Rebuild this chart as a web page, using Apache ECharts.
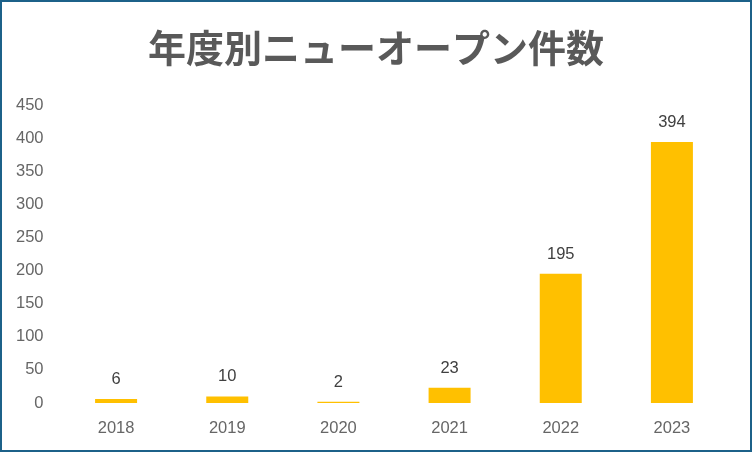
<!DOCTYPE html>
<html><head><meta charset="utf-8">
<script src="https://cdn.jsdelivr.net/npm/echarts@6/dist/echarts.min.js"></script>
<style>html,body{margin:0;padding:0;background:#fff}#c{width:752px;height:452px;box-sizing:border-box;border:2px solid #1C6189}</style>
</head><body><div id="c"></div>
<script>
const titleText = '年度別ニューオープン件数';
const categories = ['2018','2019','2020','2021','2022','2023'];
const values = [6, 10, 2, 23, 195, 394];
const yMin = 0, yMax = 450, yStep = 50;

const chart = echarts.init(document.getElementById('c'));
const font = '"Liberation Sans", Arial, sans-serif';
chart.setOption({
  animation: false,
  title: {
    text: titleText, left: 'center', top: 22,
    textStyle: {fontFamily: '"Noto Sans CJK JP"', fontSize: 38, fontWeight: 'bold', color: '#595959'}
  },
  grid: {left: 58.5, right: 22.5, top: 103, bottom: 47},
  xAxis: {
    type: 'category', data: categories,
    axisLine: {show: false}, axisTick: {show: false},
    axisLabel: {color: '#666666', fontSize: 16.5, fontFamily: font, margin: 17}
  },
  yAxis: {
    type: 'value', min: yMin, max: yMax, interval: yStep,
    splitLine: {show: false}, axisLine: {show: false}, axisTick: {show: false},
    axisLabel: {color: '#666666', fontSize: 16.5, fontFamily: font, margin: 17}
  },
  series: [{
    type: 'bar', data: values, barWidth: 42,
    itemStyle: {color: '#FFC000'},
    label: {show: true, position: 'top', distance: 11, color: '#404040', fontSize: 16.5, fontFamily: font}
  }]
});
</script></body></html>
